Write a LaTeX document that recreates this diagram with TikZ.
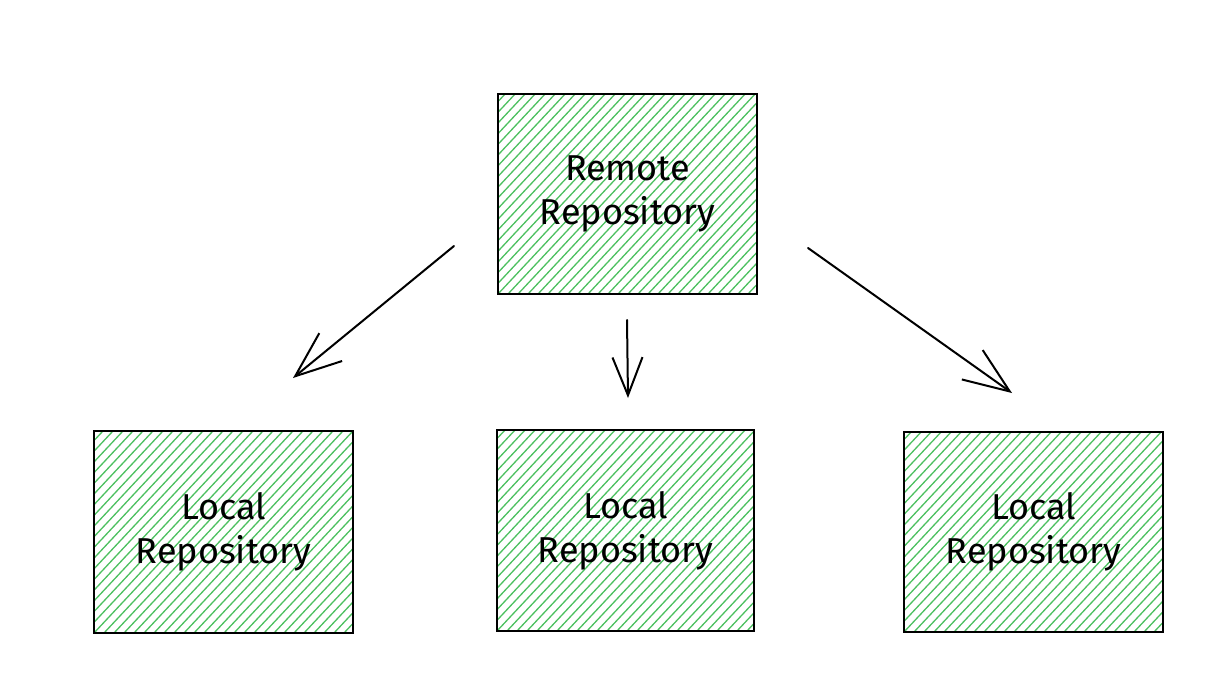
\documentclass[tikz,border=0pt]{standalone}
\usepackage{fontspec}
\setmainfont{Fira Sans}
\usetikzlibrary{arrows.meta}
\definecolor{hatchgreen}{RGB}{76,192,96}
\begin{document}
\begin{tikzpicture}[x=1pt,y=-1pt,
  hatchline/.style={draw=hatchgreen, line width=1.3pt},
  repo/.style={draw=black, line width=2.5pt, align=center, inner sep=0pt,
    minimum width=259pt, minimum height=200pt,
    font=\fontsize{36}{44}\selectfont,
    path picture={\foreach \k in {-280,-270,...,280}{\draw[hatchline] ([xshift=\k pt]path picture bounding box.south west) -- ++(290,-310);}}},
  bigarrow/.style={draw=black, line width=2pt, line cap=round,
    -{Straight Barb[length=46pt,width=36pt,line width=2pt]}},
  smallarrow/.style={draw=black, line width=2pt, line cap=round,
    -{Straight Barb[length=38pt,width=30pt,line width=2pt]}}
]
\useasboundingbox (0,0) rectangle (1230,674);
\node[repo] (remote) at (627.5,194) {Remote\\Repository};
\node[repo, minimum height=202pt] (local1) at (223.5,532) {Local\\Repository};
\node[repo, minimum width=257pt, minimum height=201pt] (local2) at (625.5,530.5) {Local\\Repository};
\node[repo] (local3) at (1033.5,532) {Local\\Repository};
\coordinate (a1s) at (454,246);
\coordinate (a1e) at (293,378);
\coordinate (a2s) at (627,320);
\coordinate (a2e) at (628,398);
\coordinate (a3s) at (808,248);
\coordinate (a3e) at (1012,393);
\draw[bigarrow] (a1s) -- (a1e);
\draw[smallarrow] (a2s) -- (a2e);
\draw[bigarrow] (a3s) -- (a3e);
\end{tikzpicture}
\end{document}
